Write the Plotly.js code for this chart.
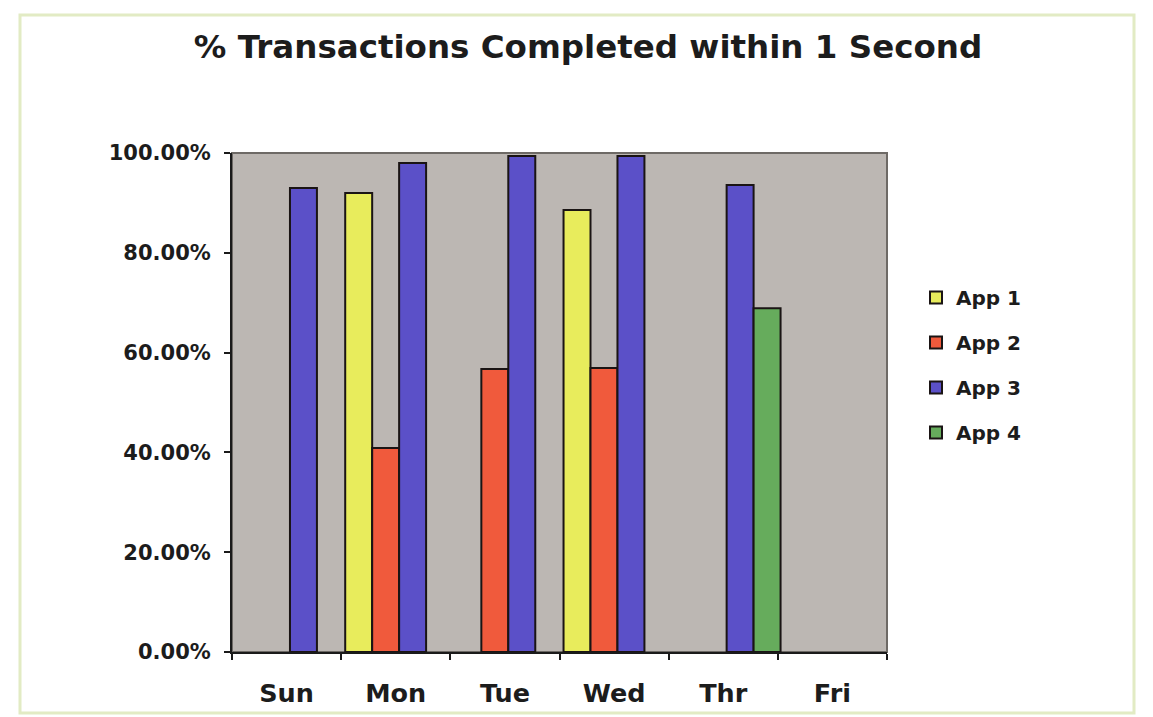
<!DOCTYPE html>
<html>
<head>
<meta charset="utf-8">
<script src="https://cdn.plot.ly/plotly-3.0.1.min.js"></script>
<style>
  html, body { margin: 0; padding: 0; background: #ffffff; }
  #chart { width: 1153px; height: 717px; }
</style>
</head>
<body>
<div id="chart"></div>
<script>
// ---- data ----
const days = ['Sun', 'Mon', 'Tue', 'Wed', 'Thr', 'Fri'];
const seriesNames = ['App 1', 'App 2', 'App 3', 'App 4'];
const app1 = [null, 0.920, null, 0.886, null, null];
const app2 = [null, 0.409, 0.567, 0.569, null, null];
const app3 = [0.930, 0.980, 0.994, 0.994, 0.936, null];
const app4 = [null, null, null, null, 0.689, null];
const yTickVals = [0, 0.2, 0.4, 0.6, 0.8, 1.0];
const yTickText = ['0.00%', '20.00%', '40.00%', '60.00%', '80.00%', '100.00%'];

// ---- styles ----
const colors = ['#e8ec5c', '#f05a3c', '#5b50c8', '#66ac5c'];
const FONT = 'DejaVu Sans, Arial, sans-serif';
const values = [app1, app2, app3, app4];
const BAR_W = 0.247;      // bar width in category units
const GROUP_START = 0.037; // gap before first bar of each group

const traces = values.map((v, i) => ({
  type: 'bar',
  name: seriesNames[i],
  x: days,
  y: v,
  width: BAR_W,
  offset: -0.5 + GROUP_START + i * BAR_W,
  legendgroup: 'g' + i,
  marker: { color: colors[i], line: { color: '#1a1414', width: 2 } },
  hoverinfo: 'x+y+name'
}));

// plot area in pixels: x 232..887, y 153..652
const L = 232, R = 887, T = 153, B = 652;
const W = R - L, H = B - T;
const px = x => (x - L) / W;
const py = y => (B - y) / H;

const layout = {
  width: 1153,
  height: 717,
  margin: { l: L, r: 1153 - R, t: T, b: 717 - B, pad: 0 },
  paper_bgcolor: '#ffffff',
  plot_bgcolor: '#bcb7b3',
  font: { family: FONT, color: '#1c1c1c' },
  title: {
    text: '<b>% Transactions Completed within 1 Second</b>',
    font: { family: FONT, size: 32.5, color: '#1c1c1c' },
    x: 588 / 1153, xref: 'container', xanchor: 'center',
    y: 1 - 47 / 717, yref: 'container', yanchor: 'middle'
  },
  barmode: 'group',
  bargap: 0,
  bargroupgap: 0,
  showlegend: true,
  legend: {
    x: px(916), xanchor: 'left',
    y: py(278), yanchor: 'top',
    font: { family: FONT, size: 20, color: '#1c1c1c', weight: 'bold' },
    bgcolor: 'rgba(0,0,0,0)',
    tracegroupgap: 16,
    itemwidth: 30,
    traceorder: 'grouped'
  },
  xaxis: {
    type: 'category',
    range: [-0.5, 5.5],
    tickson: 'boundaries',
    ticks: 'outside',
    ticklen: 6,
    tickwidth: 2,
    tickcolor: '#1a1a1a',
    showline: true,
    linecolor: '#1a1a1a',
    linewidth: 2,
    showgrid: false,
    zeroline: false,
    tickfont: { family: FONT, size: 25.5, color: '#1c1c1c', weight: 'bold' },
    ticklabelstandoff: 17
  },
  yaxis: {
    range: [0, 1],
    tickvals: yTickVals,
    ticktext: yTickText,
    ticks: 'outside',
    ticklen: 6,
    tickwidth: 2,
    tickcolor: '#1a1a1a',
    showline: true,
    linecolor: '#1a1a1a',
    linewidth: 2,
    showgrid: false,
    zeroline: false,
    tickfont: { family: FONT, size: 21, color: '#1c1c1c', weight: 'bold' },
    ticklabelstandoff: 9
  },
  shapes: [
    // plot-area border (grey top/right edges)
    { type: 'rect', xref: 'paper', yref: 'paper', x0: 0, x1: 1, y0: 0, y1: 1,
      line: { color: '#6e6a66', width: 2 }, fillcolor: 'rgba(0,0,0,0)', layer: 'below' },
    // outer chart frame
    { type: 'rect', xref: 'paper', yref: 'paper',
      x0: px(20), x1: px(1134), y0: py(713), y1: py(15),
      line: { color: '#e2ebc4', width: 3 }, fillcolor: 'rgba(0,0,0,0)', layer: 'below' }
  ]
};

Plotly.newPlot('chart', traces, layout, { displayModeBar: false, staticPlot: true });
</script>
</body>
</html>
